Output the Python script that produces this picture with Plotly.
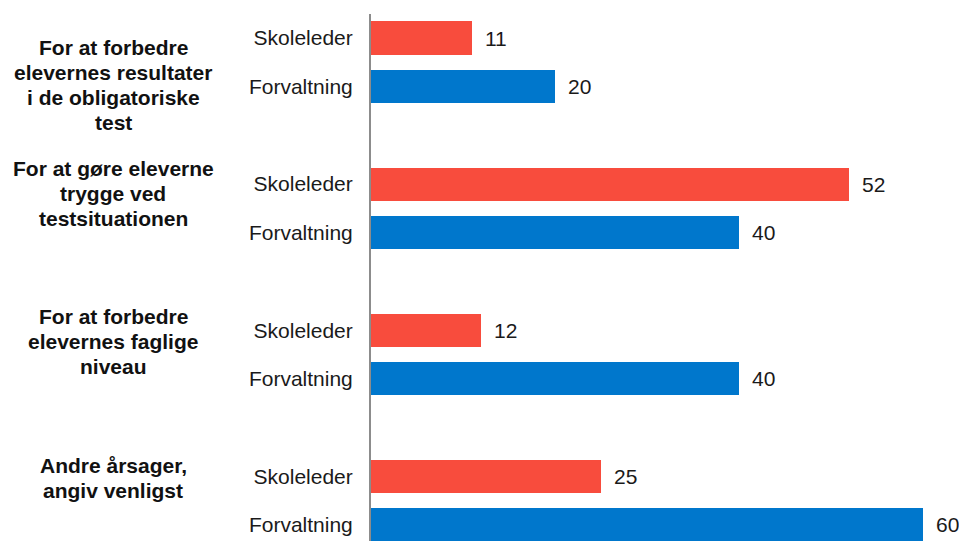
import plotly.graph_objects as go

groups = [
    ["For at forbedre", "elevernes resultater", "i de obligatoriske", "test"],
    ["For at gøre eleverne", "trygge ved", "testsituationen"],
    ["For at forbedre", "elevernes faglige", "niveau"],
    ["Andre årsager,", "angiv venligst"],
]
series_names = ["Skoleleder", "Forvaltning"]
skoleleder = [11, 52, 12, 25]
forvaltning = [20, 40, 40, 60]
colors = ["#F84C3D", "#0077CC"]

# layout constants (page body has ~8px default margin)
OFF = 8
PX_PER_UNIT = 48.7
X_PX_PER_UNIT = 9.2
label_center_offsets = [0.955, 0.2, 0.23, 0.04]  # label centre relative to group's Skoleleder bar (units)
LINE_GAP = 25 / PX_PER_UNIT

pos_sk = [3 * i for i in range(len(groups))]
pos_fv = [3 * i + 1 for i in range(len(groups))]

W_TOTAL = 967 - OFF
H_TOTAL = 541 - OFF
L_MARGIN = 371 - OFF
T_MARGIN = 14 - OFF
plot_w = W_TOTAL - L_MARGIN
LABEL_X = 113 - OFF

fig = go.Figure()
for name, vals, pos, col in [("Skoleleder", skoleleder, pos_sk, colors[0]),
                             ("Forvaltning", forvaltning, pos_fv, colors[1])]:
    fig.add_trace(go.Bar(
        x=vals, y=pos, orientation="h", name=name,
        marker=dict(color=col, line=dict(width=0)),
        width=0.68, showlegend=False,
    ))
    for v, p in zip(vals, pos):
        fig.add_annotation(x=v, y=p, xref="x", yref="y", text=str(v),
                           showarrow=False, xanchor="left", xshift=11,
                           font=dict(family="Liberation Sans, Arial", size=21, color="#1a1a1a"))

for gi, lines in enumerate(groups):
    center = pos_sk[gi] + label_center_offsets[gi]
    n = len(lines)
    for li, line in enumerate(lines):
        yy = center + (li - (n - 1) / 2) * LINE_GAP
        fig.add_annotation(x=(LABEL_X - L_MARGIN) / plot_w, xref="paper", y=yy, yref="y",
                           text=f"<b>{line}</b>",
                           showarrow=False, xanchor="center", yanchor="middle",
                           font=dict(family="Liberation Sans, Arial", size=21, color="#111111"))

tickvals = pos_sk + pos_fv
ticktext = [series_names[0]] * len(pos_sk) + [series_names[1]] * len(pos_fv)

fig.update_layout(
    width=W_TOTAL, height=H_TOTAL,
    margin=dict(l=L_MARGIN, r=0, t=T_MARGIN, b=0, autoexpand=False),
    plot_bgcolor="white", paper_bgcolor="white",
    bargap=0,
    xaxis=dict(range=[0, plot_w / X_PX_PER_UNIT], visible=False, showgrid=False, zeroline=False),
    yaxis=dict(range=[10.33, -0.493], tickvals=tickvals, ticktext=ticktext,
               showline=True, linecolor="#8c8c8c", linewidth=2,
               ticks="outside", ticklen=12, tickcolor="rgba(0,0,0,0)",
               showgrid=False, zeroline=False, automargin=False,
               tickfont=dict(family="Liberation Sans, Arial", size=21, color="#1a1a1a")),
)

fig.write_html("out.html")
